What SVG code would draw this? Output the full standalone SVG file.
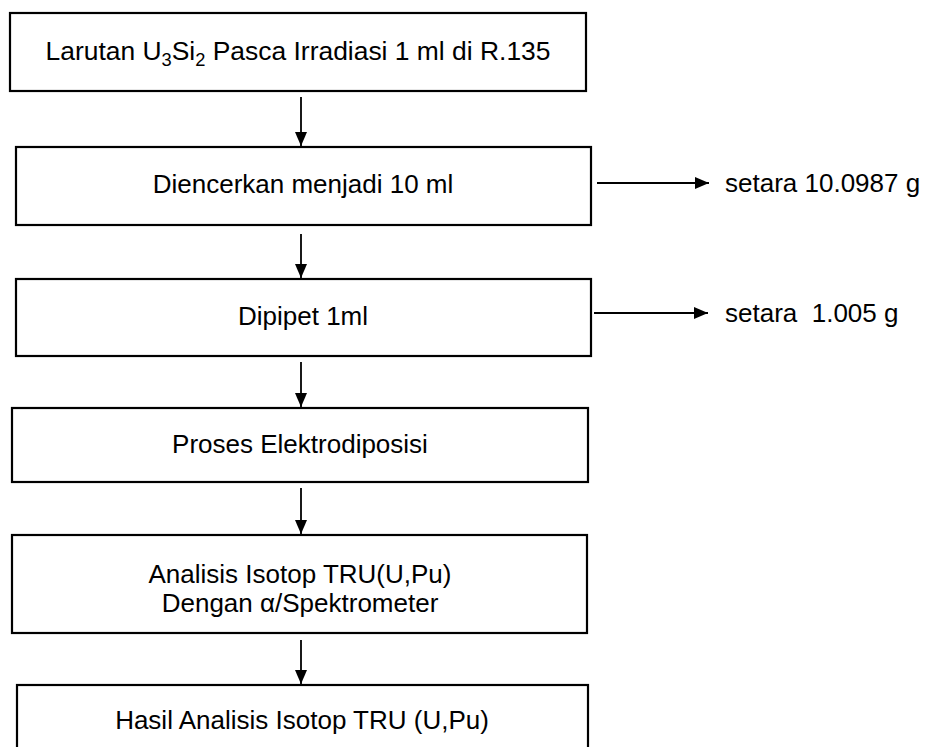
<svg xmlns="http://www.w3.org/2000/svg" width="925" height="747" viewBox="0 0 925 747">
<style>
.box{fill:#fff;stroke:#000;stroke-width:2.2}
.t{font-family:"Liberation Sans",Arial,sans-serif;font-size:26px;fill:#000}
.c{text-anchor:middle}
.ln{stroke:#000;stroke-width:1.8;fill:none}
</style>
<defs>
<marker id="ah" markerWidth="14" markerHeight="12" refX="14" refY="6" orient="auto" markerUnits="userSpaceOnUse">
<path d="M0,0 L14,6 L0,12 Z" fill="#000"/>
</marker>
</defs>
<rect width="925" height="747" fill="#fff"/>
<g id="n1">
<rect class="box" x="10" y="13" width="576" height="78"/>
<text class="t c" x="298" y="60" textLength="505" lengthAdjust="spacingAndGlyphs">Larutan U<tspan font-size="18" dy="6">3</tspan><tspan dy="-6">Si</tspan><tspan font-size="18" dy="6">2</tspan><tspan dy="-6"> Pasca Irradiasi 1 ml di R.135</tspan></text>
</g>
<g id="n2">
<rect class="box" x="16" y="147" width="575" height="78"/>
<text class="t c" x="303" y="193">Diencerkan menjadi 10 ml</text>
</g>
<g id="n3">
<rect class="box" x="16" y="279" width="575" height="77"/>
<text class="t c" x="303" y="325">Dipipet 1ml</text>
</g>
<g id="n4">
<rect class="box" x="12" y="408" width="576" height="74"/>
<text class="t c" x="300" y="453">Proses Elektrodiposisi</text>
</g>
<g id="n5">
<rect class="box" x="12" y="535" width="575" height="98"/>
<text class="t c" x="300" y="583">Analisis Isotop TRU(U,Pu)</text>
<text class="t c" x="300" y="612">Dengan α/Spektrometer</text>
</g>
<g id="n6">
<rect class="box" x="17" y="685" width="571" height="70"/>
<text class="t c" x="302" y="729">Hasil Analisis Isotop TRU (U,Pu)</text>
</g>
<g id="s1"><text class="t" x="725" y="192">setara 10.0987 g</text></g>
<g id="s2"><text class="t" x="725" y="322" xml:space="preserve" style="white-space:pre">setara  1.005 g</text></g>
<g id="connectors">
<line class="ln" x1="301" y1="97" x2="301" y2="146" marker-end="url(#ah)"/>
<line class="ln" x1="301" y1="234" x2="301" y2="278" marker-end="url(#ah)"/>
<line class="ln" x1="301" y1="362" x2="301" y2="407" marker-end="url(#ah)"/>
<line class="ln" x1="301" y1="488" x2="301" y2="534" marker-end="url(#ah)"/>
<line class="ln" x1="301" y1="640" x2="301" y2="684" marker-end="url(#ah)"/>
<line class="ln" x1="597" y1="183" x2="709" y2="183" marker-end="url(#ah)"/>
<line class="ln" x1="594" y1="313" x2="708" y2="313" marker-end="url(#ah)"/>
</g>
</svg>
